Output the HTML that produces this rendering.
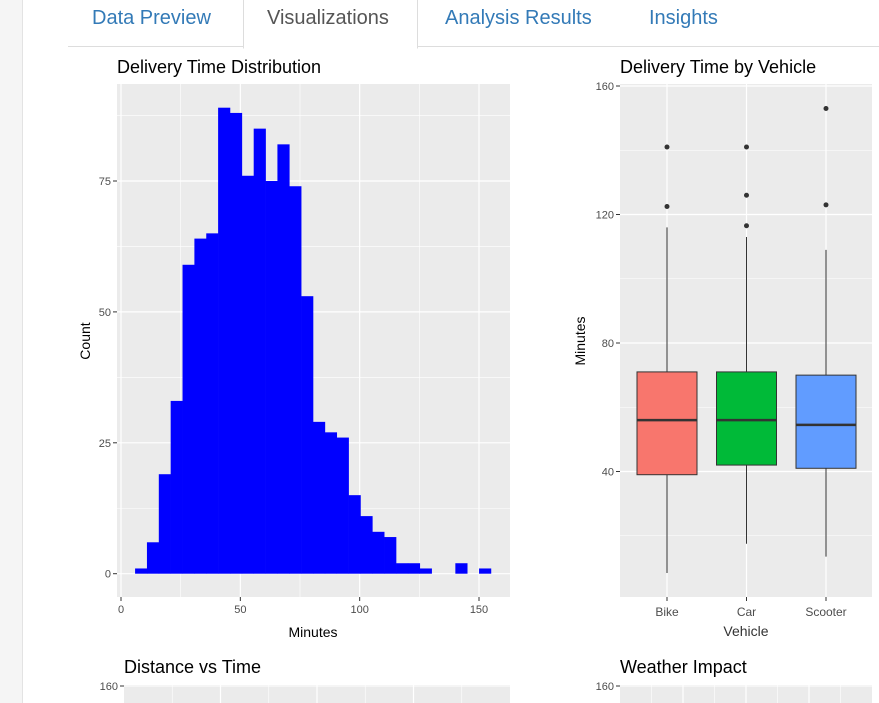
<!DOCTYPE html>
<html><head><meta charset="utf-8"><style>
body{margin:0;width:879px;height:703px;overflow:hidden;background:#fff;font-family:"Liberation Sans",Arial,sans-serif;position:relative}
.side{position:absolute;left:0;top:0;width:22px;height:703px;background:#f5f5f5;border-right:1px solid #e3e3e3}
.tabline{position:absolute;left:68px;top:46px;width:811px;height:1px;background:#ddd}
.tab{position:absolute;top:7px;font-size:20px;color:#337ab7}
.active{position:absolute;left:243px;top:-2px;width:173px;height:49px;border:1px solid #ddd;border-bottom:1px solid #fff;background:#fff}
</style></head><body>
<div class="side"></div>
<div class="tabline"></div>
<div class="active"></div>
<div class="tab" style="left:92px">Data Preview</div>
<div class="tab" style="left:267px;color:#555">Visualizations</div>
<div class="tab" style="left:445px">Analysis Results</div>
<div class="tab" style="left:649px">Insights</div>
<svg id="svg" width="879" height="703" style="position:absolute;left:0;top:0"></svg>
<script>
const histCounts=[1,6,19,33,59,64,65,89,88,76,85,75,82,74,53,29,27,26,15,11,8,7,2,2,1,0,0,2,0,1];
const histStart=5.9, binW=4.97;
const histXTicks=[0,50,100,150];
const histYTicks=[0,25,50,75];
const vehicles=["Bike","Car","Scooter"];
const vLow=[8.4,17.5,13.5];
const vQ1=[39,42,41];
const vMed=[56,56,54.5];
const vQ3=[71,71,70];
const vHigh=[116,113,109];
const vOut=[[122.5,141],[116.5,126,141],[123,153]];
const vColors=["#F8766D","#00BA38","#619CFF"];
const boxYTicks=[40,80,120,160];

const svg=document.getElementById('svg');const NS='http://www.w3.org/2000/svg';
function mk(t,a,name){const e=document.createElementNS(NS,t);for(const k in a)e.setAttribute(k,a[k]);


svg.appendChild(e);return e;}
function txt(x,y,s,sz,fill,anchor,name,rot){const e=mk('text',{x:x,y:y,'font-size':sz,fill:fill,'text-anchor':anchor||'start','font-family':'Liberation Sans, Arial, sans-serif'},name);if(rot)e.setAttribute('transform',rot);e.textContent=s;return e;}

// Histogram
const hx=v=>121+v*(479-121)/150, hy=v=>573.7-v*(573.7-181)/75;
const HL=117,HR=510,HT=84,HB=597;
mk('rect',{x:HL,y:HT,width:HR-HL,height:HB-HT,fill:'#ebebeb'},'histogram-panel');
for(let i=0;i<histXTicks.length;i++){const v=histXTicks[i];
 if(i<histXTicks.length-1){const m=(v+histXTicks[i+1])/2;mk('line',{x1:hx(m),x2:hx(m),y1:HT,y2:HB,stroke:'#fff','stroke-width':0.6},'minor-gridline');}
 mk('line',{x1:hx(v),x2:hx(v),y1:HT,y2:HB,stroke:'#fff','stroke-width':1.2},'x-gridline');
 mk('line',{x1:hx(v),x2:hx(v),y1:HB,y2:HB+4,stroke:'#333'},'x-tick');
 txt(hx(v),HB+16,String(v),11,'#4d4d4d','middle','x-tick-label');}
for(let i=0;i<histYTicks.length;i++){const v=histYTicks[i];
 mk('line',{x1:HL,x2:HR,y1:hy(v+12.5),y2:hy(v+12.5),stroke:'#fff','stroke-width':0.6},'minor-gridline');
 mk('line',{x1:HL,x2:HR,y1:hy(v),y2:hy(v),stroke:'#fff','stroke-width':1.2},'y-gridline');
 mk('line',{x1:HL-4,x2:HL,y1:hy(v),y2:hy(v),stroke:'#333'},'y-tick');
 txt(HL-6,hy(v)+4,String(v),11,'#4d4d4d','end','y-tick-label');}
histCounts.forEach((c,i)=>{if(c>0){const x0=hx(histStart+i*binW),x1=hx(histStart+(i+1)*binW);
 mk('rect',{x:x0,y:hy(c),width:x1-x0+0.3,height:hy(0)-hy(c),fill:'#0000ff'},'histogram-bar');}});
txt(117,73,'Delivery Time Distribution',18,'#000','start','histogram-title');
txt(313,637,'Minutes',14,'#000','middle','histogram-x-title');
txt(90,341,'Count',14,'#000','middle','histogram-y-title','rotate(-90 90 341)');

// Boxplot
const BL=620,BR=872,BT=84,BB=597;
const by=v=>600-v*(600-86)/160;
const bx=i=>667+i*79.5;
mk('rect',{x:BL,y:BT,width:BR-BL,height:BB-BT,fill:'#ebebeb'},'boxplot-panel');
boxYTicks.forEach(v=>{mk('line',{x1:BL,x2:BR,y1:by(v-20),y2:by(v-20),stroke:'#fff','stroke-width':0.6},'minor-gridline');
 mk('line',{x1:BL,x2:BR,y1:by(v),y2:by(v),stroke:'#fff','stroke-width':1.2},'y-gridline');
 mk('line',{x1:BL-4,x2:BL,y1:by(v),y2:by(v),stroke:'#333'},'y-tick');
 txt(BL-6,by(v)+4,String(v),11,'#4d4d4d','end','y-tick-label');});
vehicles.forEach((n,i)=>{const c=bx(i);
 mk('line',{x1:c,x2:c,y1:BT,y2:BB,stroke:'#fff','stroke-width':1.2},'x-gridline');
 mk('line',{x1:c,x2:c,y1:BB,y2:BB+4,stroke:'#333'},'x-tick');
 txt(c,BB+19,n,12,'#4d4d4d','middle','x-tick-label');
 mk('line',{x1:c,x2:c,y1:by(vHigh[i]),y2:by(vQ3[i]),stroke:'#333','stroke-width':1},'upper-whisker');
 mk('line',{x1:c,x2:c,y1:by(vQ1[i]),y2:by(vLow[i]),stroke:'#333','stroke-width':1},'lower-whisker');
 mk('rect',{x:c-30,y:by(vQ3[i]),width:60,height:by(vQ1[i])-by(vQ3[i]),fill:vColors[i],stroke:'#333','stroke-width':1},'box-'+n.toLowerCase());
 mk('line',{x1:c-30,x2:c+30,y1:by(vMed[i]),y2:by(vMed[i]),stroke:'#333','stroke-width':2.5},'median-line');
 vOut[i].forEach(o=>mk('circle',{cx:c,cy:by(o),r:2.5,fill:'#333'},'outlier-point'));});
txt(620,73,'Delivery Time by Vehicle',18,'#000','start','boxplot-title');
txt(746,636,'Vehicle',14,'#333','middle','boxplot-x-title');
txt(585,341,'Minutes',14,'#000','middle','boxplot-y-title','rotate(-90 585 341)');

// Bottom plots
txt(124,673,'Distance vs Time',18,'#000','start','scatter-title');
txt(620,673,'Weather Impact',18,'#000','start','weather-title');
[[124,510],[620,872]].forEach(p=>{mk('rect',{x:p[0],y:685,width:p[1]-p[0],height:20,fill:'#ebebeb'},'bottom-panel');
 for(let k=1;k<8;k++){const x=p[0]+k*(p[1]-p[0])/8;mk('line',{x1:x,x2:x,y1:685,y2:703,stroke:'#fff','stroke-width':k%2?0.6:1.2},'x-gridline');}
 mk('line',{x1:p[0],x2:p[1],y1:686,y2:686,stroke:'#fff'},'y-gridline');
 mk('line',{x1:p[0]-4,x2:p[0],y1:686,y2:686,stroke:'#333'},'y-tick');
 txt(p[0]-6,690,'160',11,'#4d4d4d','end','y-tick-label');});
</script>
</body></html>
